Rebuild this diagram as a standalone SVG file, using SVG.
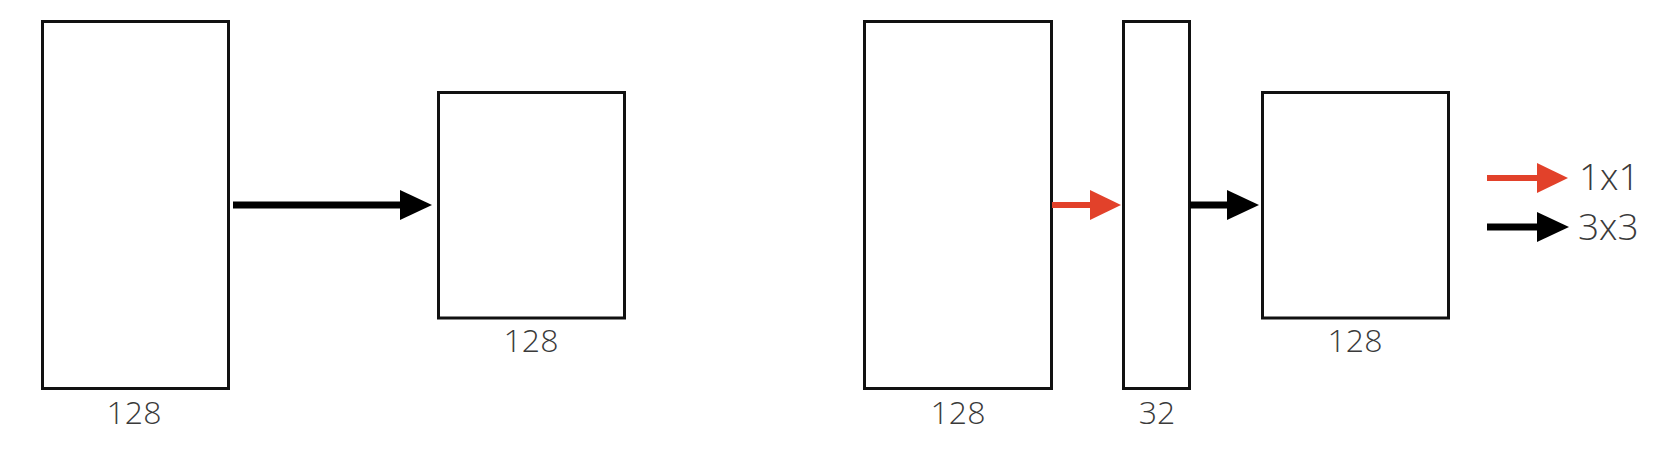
<svg xmlns="http://www.w3.org/2000/svg" width="1672" height="466" viewBox="0 0 1672 466">
  <style>
    .box { fill: #ffffff; stroke: #111111; stroke-width: 3; }
    .lbl { font-family: "Open Sans", "Liberation Sans", sans-serif; font-weight: 300; font-size: 32px; fill: #3a3a3a; text-anchor: middle; }
    .leg { font-family: "Open Sans", "Liberation Sans", sans-serif; font-weight: 300; font-size: 37px; fill: #3a3a3a; }
    .blk { stroke: #000000; stroke-width: 7; fill: none; }
    .red { stroke: #e2412a; stroke-width: 6; fill: none; }
  </style>
  <defs>
    <marker id="headBlack" markerUnits="userSpaceOnUse" markerWidth="33" markerHeight="31" refX="1" refY="15" orient="auto">
      <path d="M0,0 L32,15 L0,30 Z" fill="#000000"/>
    </marker>
    <marker id="headRed" markerUnits="userSpaceOnUse" markerWidth="33" markerHeight="31" refX="1" refY="15" orient="auto">
      <path d="M0,0 L31,15 L0,30 Z" fill="#e2412a"/>
    </marker>
  </defs>
  <rect width="1672" height="466" fill="#ffffff"/>

  <g id="left-input">
    <rect class="box" x="42.5" y="21.5" width="186" height="367"/>
    <text class="lbl" x="134" y="424">128</text>
  </g>
  <g id="left-output">
    <rect class="box" x="438.5" y="92.5" width="186" height="225.5"/>
    <text class="lbl" x="531" y="352">128</text>
  </g>

  <g id="right-input">
    <rect class="box" x="864.5" y="21.5" width="187" height="367"/>
    <text class="lbl" x="958" y="424">128</text>
  </g>
  <g id="right-bottleneck">
    <rect class="box" x="1123.5" y="21.5" width="66" height="367"/>
    <text class="lbl" x="1157" y="424">32</text>
  </g>
  <g id="right-output">
    <rect class="box" x="1262.5" y="92.5" width="186" height="225.5"/>
    <text class="lbl" x="1355" y="352">128</text>
  </g>

  <g id="legend">
    <line class="red" x1="1487" y1="178" x2="1538" y2="178" marker-end="url(#headRed)"/>
    <text class="leg" x="1579" y="190">1x1</text>
    <line class="blk" x1="1487" y1="227" x2="1538" y2="227" marker-end="url(#headBlack)"/>
    <text class="leg" x="1578" y="240">3x3</text>
  </g>

  <g id="connectors">
    <line class="blk" x1="233" y1="205" x2="401" y2="205" marker-end="url(#headBlack)"/>
    <line class="red" x1="1052" y1="205" x2="1091" y2="205" marker-end="url(#headRed)"/>
    <line class="blk" x1="1190" y1="205" x2="1228" y2="205" marker-end="url(#headBlack)"/>
  </g>
</svg>
